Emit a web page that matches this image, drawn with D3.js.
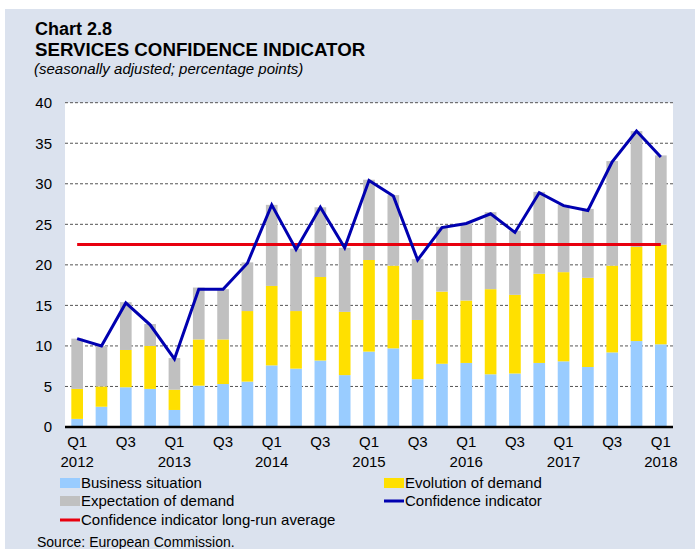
<!DOCTYPE html>
<html>
<head>
<meta charset="utf-8">
<script src="https://cdn.jsdelivr.net/npm/d3@7"></script>
<style>
  body { margin: 0; background: #fff; }
  svg { display: block; font-family: "Liberation Sans", Arial, sans-serif; }
</style>
</head>
<body>
<svg width="695" height="549"></svg>
<script>
// quarters Q1 2012 .. Q1 2018
const quarters = ["2012Q1","2012Q2","2012Q3","2012Q4","2013Q1","2013Q2","2013Q3","2013Q4",
  "2014Q1","2014Q2","2014Q3","2014Q4","2015Q1","2015Q2","2015Q3","2015Q4",
  "2016Q1","2016Q2","2016Q3","2016Q4","2017Q1","2017Q2","2017Q3","2017Q4","2018Q1"];

const business =    [1.0, 2.5, 4.9, 4.7, 2.1, 5.1, 5.3, 5.6, 7.6, 7.2, 8.2, 6.4, 9.3, 9.7, 5.9, 7.8, 7.9, 6.5, 6.6, 7.9, 8.1, 7.4, 9.2, 10.6, 10.2];
const evolution =   [3.7, 2.5, 4.6, 5.3, 2.5, 5.7, 5.5, 8.7, 9.8, 7.1, 10.3, 7.8, 11.3, 10.2, 7.3, 8.9, 7.7, 10.5, 9.7, 11.0, 11.0, 11.0, 10.7, 11.6, 12.3];
const expectation = [6.2, 5.0, 5.9, 2.7, 3.9, 6.4, 6.2, 6.0, 10.0, 7.7, 8.6, 7.9, 9.9, 8.7, 7.5, 8.0, 9.5, 9.5, 7.9, 10.1, 8.3, 8.5, 12.9, 14.3, 11.0];
const confidence =  [10.9, 10.0, 15.3, 12.6, 8.4, 17.0, 17.0, 20.2, 27.4, 21.9, 27.1, 22.1, 30.4, 28.5, 20.6, 24.6, 25.1, 26.3, 24.0, 28.9, 27.3, 26.7, 32.7, 36.5, 33.3];
const longRunAvg = 22.5;

const yTicks = [0, 5, 10, 15, 20, 25, 30, 35, 40];

const svg = d3.select("svg");

// panel background
svg.append("rect").attr("x", 5).attr("y", 9).attr("width", 690).attr("height", 540).attr("fill", "#dbe2ee");

// titles
svg.append("text").attr("x", 35).attr("y", 35).attr("font-size", 18).attr("font-weight", "bold").text("Chart 2.8");
svg.append("text").attr("x", 35).attr("y", 56).attr("font-size", 18.7).attr("font-weight", "bold").text("SERVICES CONFIDENCE INDICATOR");
svg.append("text").attr("x", 34).attr("y", 73.5).attr("font-size", 15).attr("font-style", "italic").text("(seasonally adjusted; percentage points)");

const plotL = 65, plotR = 673, plotT = 102.7, plotB = 427;

svg.append("rect").attr("x", plotL).attr("y", plotT).attr("width", plotR - plotL).attr("height", plotB - plotT).attr("fill", "#fff");

const x = d3.scaleBand().domain(quarters).range([plotL, plotR]).paddingInner(0.52).paddingOuter(0.26);
const y = d3.scaleLinear().domain([0, 40]).range([plotB, plotT]);

// gridlines
svg.append("g").selectAll("line")
  .data(yTicks.filter(d => d > 0))
  .join("line")
  .attr("x1", plotL).attr("x2", plotR)
  .attr("y1", d => y(d)).attr("y2", d => y(d))
  .attr("stroke", "#555").attr("stroke-width", 1).attr("stroke-dasharray", "3,2");

// stacked bars
const rows = quarters.map((q, i) => ({ q: q, business: business[i], evolution: evolution[i], expectation: expectation[i] }));
const keys = ["business", "evolution", "expectation"];
const colors = { business: "#99ccff", evolution: "#ffe000", expectation: "#c0c0c0" };
const stack = d3.stack().keys(keys)(rows);

svg.append("g").selectAll("g")
  .data(stack)
  .join("g")
  .attr("fill", d => colors[d.key])
  .selectAll("rect")
  .data(d => d)
  .join("rect")
  .attr("x", d => x(d.data.q))
  .attr("width", x.bandwidth())
  .attr("y", d => y(d[1]))
  .attr("height", d => y(d[0]) - y(d[1]));

// x axis line
svg.append("line").attr("x1", plotL).attr("x2", plotR).attr("y1", plotB).attr("y2", plotB)
  .attr("stroke", "#000").attr("stroke-width", 2.5);

// long-run average
svg.append("line")
  .attr("x1", x(quarters[0]) + x.bandwidth() / 2)
  .attr("x2", x(quarters[quarters.length - 1]) + x.bandwidth() / 2)
  .attr("y1", y(longRunAvg)).attr("y2", y(longRunAvg))
  .attr("stroke", "#e8000e").attr("stroke-width", 3);

// confidence indicator line
const line = d3.line()
  .x((d, i) => x(quarters[i]) + x.bandwidth() / 2)
  .y(d => y(d));
svg.append("path").datum(confidence)
  .attr("d", line)
  .attr("fill", "none").attr("stroke", "#0000b0").attr("stroke-width", 3).attr("stroke-linejoin", "miter");

// y axis
const yAxis = svg.append("g").attr("transform", "translate(" + plotL + ",0)")
  .call(d3.axisLeft(y).tickValues(yTicks).tickSize(0).tickPadding(13));
yAxis.select(".domain").remove();
yAxis.selectAll("text").attr("font-size", 15).attr("font-family", "Liberation Sans, Arial, sans-serif").attr("fill", "#000");

// x axis labels (every second quarter)
const xAxis = svg.append("g").attr("transform", "translate(0," + plotB + ")")
  .call(d3.axisBottom(x).tickValues(quarters.filter((d, i) => i % 2 === 0)).tickSize(0).tickPadding(9).tickFormat(d => d.slice(4)));
xAxis.select(".domain").remove();
xAxis.selectAll("text").attr("font-size", 15).attr("font-family", "Liberation Sans, Arial, sans-serif").attr("fill", "#000");
xAxis.selectAll(".tick").filter(d => d.endsWith("Q1"))
  .append("text")
  .attr("y", 40).attr("text-anchor", "middle")
  .attr("font-size", 15).attr("font-family", "Liberation Sans, Arial, sans-serif").attr("fill", "#000")
  .text(d => d.slice(0, 4));

// legend
const legend = [
  { label: "Business situation", type: "box", color: colors.business, x: 60, y: 483 },
  { label: "Evolution of demand", type: "box", color: colors.evolution, x: 384, y: 483 },
  { label: "Expectation of demand", type: "box", color: colors.expectation, x: 60, y: 501 },
  { label: "Confidence indicator", type: "line", color: "#0000b0", x: 384, y: 501 },
  { label: "Confidence indicator long-run average", type: "line", color: "#e8000e", x: 60, y: 520 }
];
const lg = svg.append("g").selectAll("g").data(legend).join("g")
  .attr("transform", d => "translate(" + d.x + "," + d.y + ")");
lg.filter(d => d.type === "box").append("rect")
  .attr("x", 0).attr("y", -5).attr("width", 20).attr("height", 10).attr("fill", d => d.color);
lg.filter(d => d.type === "line").append("line")
  .attr("x1", 0).attr("x2", 20).attr("y1", 0).attr("y2", 0).attr("stroke", d => d.color).attr("stroke-width", 3);
lg.append("text").attr("x", 21).attr("y", 5).attr("font-size", 15).text(d => d.label);

svg.append("text").attr("x", 37).attr("y", 547).attr("font-size", 14).text("Source: European Commission.");
</script>
</body>
</html>
